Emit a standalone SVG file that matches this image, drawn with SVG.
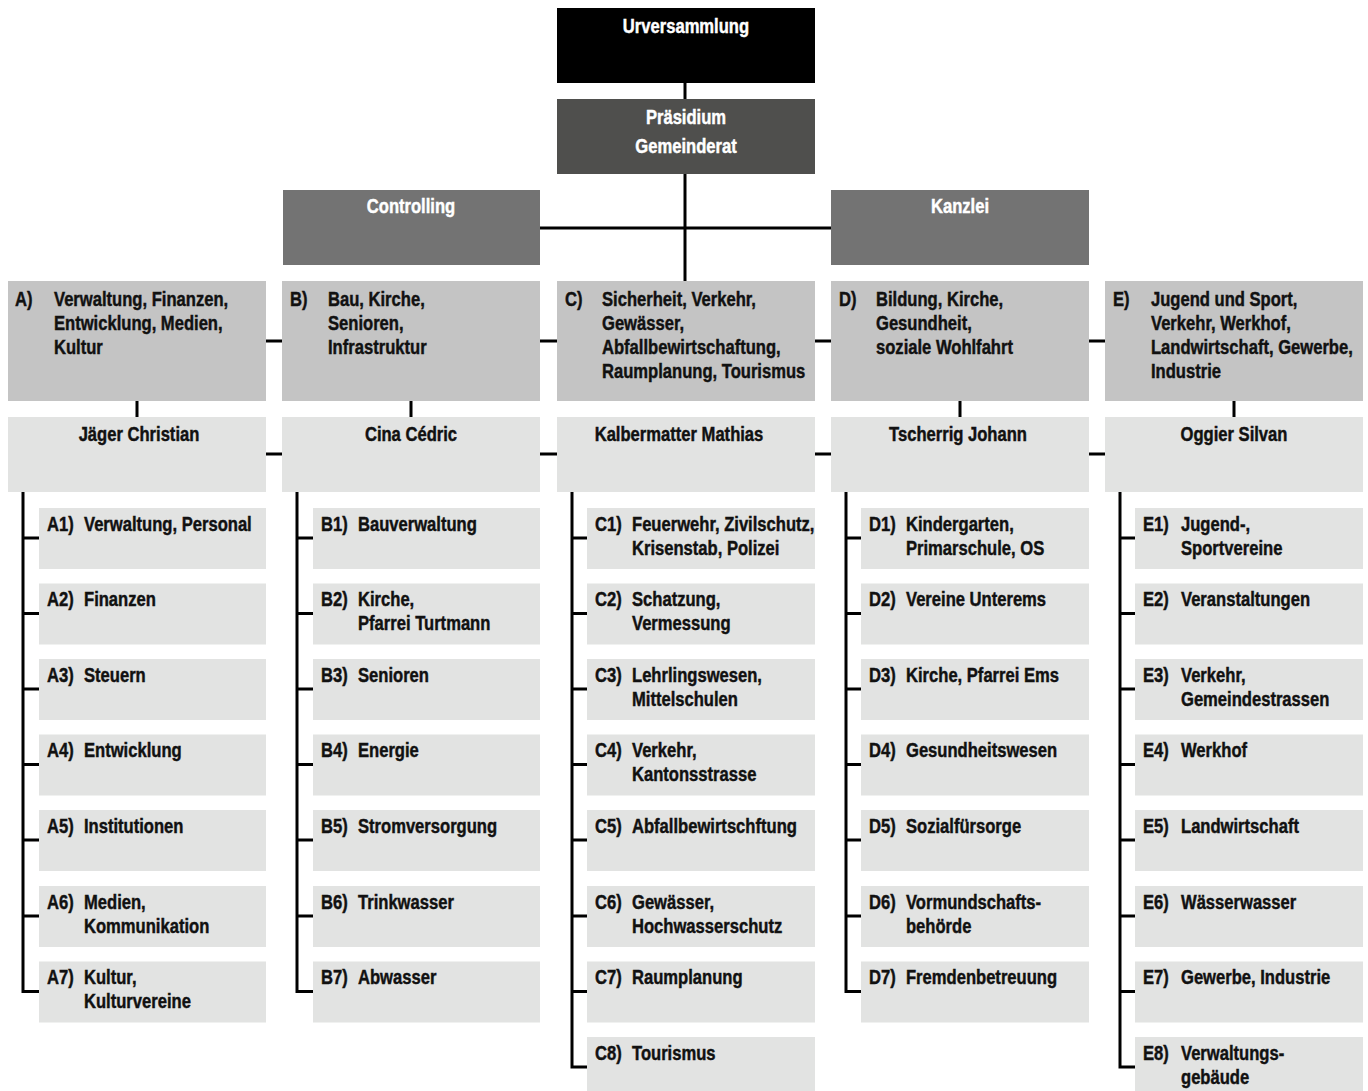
<svg xmlns="http://www.w3.org/2000/svg" width="1368" height="1091" viewBox="0 0 1368 1091">
<style>
text{font-family:"Liberation Sans",Arial,sans-serif;font-weight:bold;font-size:20px;fill:#111;stroke:#111;stroke-width:.45;transform-box:fill-box;transform-origin:0 0;transform:scaleX(.83)}
.w{fill:#fff;stroke:#fff}
.c{text-anchor:middle;transform-origin:50% 0}
.top{fill:#000}
.pres{fill:#4f4f4d}
.staff{fill:#737373}
.dept{fill:#c4c4c4}
.pers{fill:#e2e3e2}
.item{fill:#e2e3e2}
.ln{stroke:#000;stroke-width:3;fill:none}
</style>
<g id="connectors" class="ln">
<path d="M685 83V281"/>
<path d="M540 228H831"/>
<path d="M266 341H282M540 341H557M815 341H831M1089 341H1105"/>
<path d="M266 454H282M540 454H557M815 454H831M1089 454H1105"/>
<path d="M137 401V417M411 401V417M960 401V417M1234 401V417"/>
<path d="M23 492V991.5H39M23 538H39M23 613.5H39M23 689H39M23 764.5H39M23 840H39M23 916H39"/>
<path d="M297 492V991.5H313M297 538H313M297 613.5H313M297 689H313M297 764.5H313M297 840H313M297 916H313"/>
<path d="M572 492V1067H587M572 538H587M572 613.5H587M572 689H587M572 764.5H587M572 840H587M572 916H587M572 991.5H587"/>
<path d="M846 492V991.5H861M846 538H861M846 613.5H861M846 689H861M846 764.5H861M846 840H861M846 916H861"/>
<path d="M1120 492V1067H1135M1120 538H1135M1120 613.5H1135M1120 689H1135M1120 764.5H1135M1120 840H1135M1120 916H1135M1120 991.5H1135"/>
</g>
<g id="urversammlung"><rect class="top" x="557" y="8" width="258" height="75"/><text class="w c" x="686" y="33">Urversammlung</text></g>
<g id="praesidium"><rect class="pres" x="557" y="99" width="258" height="75"/><text class="w c" x="686" y="124">Präsidium</text><text class="w c" x="686" y="153">Gemeinderat</text></g>
<g id="controlling"><rect class="staff" x="283" y="190" width="257" height="75"/><text class="w c" x="411" y="213">Controlling</text></g>
<g id="kanzlei"><rect class="staff" x="831" y="190" width="258" height="75"/><text class="w c" x="960" y="213">Kanzlei</text></g>

<g id="dept-A"><rect class="dept" x="8" y="281" width="258" height="120"/><text x="15" y="306">A)</text><text x="54" y="306">Verwaltung, Finanzen,<tspan x="54" dy="24">Entwicklung, Medien,</tspan><tspan x="54" dy="24">Kultur</tspan></text></g>
<g id="dept-B"><rect class="dept" x="282" y="281" width="258" height="120"/><text x="290" y="306">B)</text><text x="328" y="306">Bau, Kirche,<tspan x="328" dy="24">Senioren,</tspan><tspan x="328" dy="24">Infrastruktur</tspan></text></g>
<g id="dept-C"><rect class="dept" x="557" y="281" width="258" height="120"/><text x="565" y="306">C)</text><text x="602" y="306">Sicherheit, Verkehr,<tspan x="602" dy="24">Gewässer,</tspan><tspan x="602" dy="24">Abfallbewirtschaftung,</tspan><tspan x="602" dy="24">Raumplanung, Tourismus</tspan></text></g>
<g id="dept-D"><rect class="dept" x="831" y="281" width="258" height="120"/><text x="839" y="306">D)</text><text x="876" y="306">Bildung, Kirche,<tspan x="876" dy="24">Gesundheit,</tspan><tspan x="876" dy="24">soziale Wohlfahrt</tspan></text></g>
<g id="dept-E"><rect class="dept" x="1105" y="281" width="258" height="120"/><text x="1113" y="306">E)</text><text x="1151" y="306">Jugend und Sport,<tspan x="1151" dy="24">Verkehr, Werkhof,</tspan><tspan x="1151" dy="24">Landwirtschaft, Gewerbe,</tspan><tspan x="1151" dy="24">Industrie</tspan></text></g>

<g id="person-A"><rect class="pers" x="8" y="417" width="258" height="75"/><text class="c" x="139" y="441">Jäger Christian</text></g>
<g id="person-B"><rect class="pers" x="282" y="417" width="258" height="75"/><text class="c" x="411" y="441">Cina Cédric</text></g>
<g id="person-C"><rect class="pers" x="557" y="417" width="258" height="75"/><text class="c" x="679" y="441">Kalbermatter Mathias</text></g>
<g id="person-D"><rect class="pers" x="831" y="417" width="258" height="75"/><text class="c" x="958" y="441">Tscherrig Johann</text></g>
<g id="person-E"><rect class="pers" x="1105" y="417" width="258" height="75"/><text class="c" x="1234" y="441">Oggier Silvan</text></g>

<g id="A1"><rect class="item" x="39" y="508" width="227" height="61"/><text x="47" y="531">A1)</text><text x="84" y="531">Verwaltung, Personal</text></g>
<g id="A2"><rect class="item" x="39" y="583.5" width="227" height="61"/><text x="47" y="606.5">A2)</text><text x="84" y="606.5">Finanzen</text></g>
<g id="A3"><rect class="item" x="39" y="659" width="227" height="61"/><text x="47" y="682">A3)</text><text x="84" y="682">Steuern</text></g>
<g id="A4"><rect class="item" x="39" y="734.5" width="227" height="61"/><text x="47" y="757.5">A4)</text><text x="84" y="757.5">Entwicklung</text></g>
<g id="A5"><rect class="item" x="39" y="810" width="227" height="61"/><text x="47" y="833">A5)</text><text x="84" y="833">Institutionen</text></g>
<g id="A6"><rect class="item" x="39" y="886" width="227" height="61"/><text x="47" y="909">A6)</text><text x="84" y="909">Medien,<tspan x="84" dy="24">Kommunikation</tspan></text></g>
<g id="A7"><rect class="item" x="39" y="961.5" width="227" height="61"/><text x="47" y="984.5">A7)</text><text x="84" y="984.5">Kultur,<tspan x="84" dy="24">Kulturvereine</tspan></text></g>

<g id="B1"><rect class="item" x="313" y="508" width="227" height="61"/><text x="321" y="531">B1)</text><text x="358" y="531">Bauverwaltung</text></g>
<g id="B2"><rect class="item" x="313" y="583.5" width="227" height="61"/><text x="321" y="606.5">B2)</text><text x="358" y="606.5">Kirche,<tspan x="358" dy="24">Pfarrei Turtmann</tspan></text></g>
<g id="B3"><rect class="item" x="313" y="659" width="227" height="61"/><text x="321" y="682">B3)</text><text x="358" y="682">Senioren</text></g>
<g id="B4"><rect class="item" x="313" y="734.5" width="227" height="61"/><text x="321" y="757.5">B4)</text><text x="358" y="757.5">Energie</text></g>
<g id="B5"><rect class="item" x="313" y="810" width="227" height="61"/><text x="321" y="833">B5)</text><text x="358" y="833">Stromversorgung</text></g>
<g id="B6"><rect class="item" x="313" y="886" width="227" height="61"/><text x="321" y="909">B6)</text><text x="358" y="909">Trinkwasser</text></g>
<g id="B7"><rect class="item" x="313" y="961.5" width="227" height="61"/><text x="321" y="984.5">B7)</text><text x="358" y="984.5">Abwasser</text></g>

<g id="C1"><rect class="item" x="587" y="508" width="228" height="61"/><text x="595" y="531">C1)</text><text x="632" y="531">Feuerwehr, Zivilschutz,<tspan x="632" dy="24">Krisenstab, Polizei</tspan></text></g>
<g id="C2"><rect class="item" x="587" y="583.5" width="228" height="61"/><text x="595" y="606.5">C2)</text><text x="632" y="606.5">Schatzung,<tspan x="632" dy="24">Vermessung</tspan></text></g>
<g id="C3"><rect class="item" x="587" y="659" width="228" height="61"/><text x="595" y="682">C3)</text><text x="632" y="682">Lehrlingswesen,<tspan x="632" dy="24">Mittelschulen</tspan></text></g>
<g id="C4"><rect class="item" x="587" y="734.5" width="228" height="61"/><text x="595" y="757.5">C4)</text><text x="632" y="757.5">Verkehr,<tspan x="632" dy="24">Kantonsstrasse</tspan></text></g>
<g id="C5"><rect class="item" x="587" y="810" width="228" height="61"/><text x="595" y="833">C5)</text><text x="632" y="833">Abfallbewirtschftung</text></g>
<g id="C6"><rect class="item" x="587" y="886" width="228" height="61"/><text x="595" y="909">C6)</text><text x="632" y="909">Gewässer,<tspan x="632" dy="24">Hochwasserschutz</tspan></text></g>
<g id="C7"><rect class="item" x="587" y="961.5" width="228" height="61"/><text x="595" y="984.5">C7)</text><text x="632" y="984.5">Raumplanung</text></g>
<g id="C8"><rect class="item" x="587" y="1037" width="228" height="61"/><text x="595" y="1060">C8)</text><text x="632" y="1060">Tourismus</text></g>

<g id="D1"><rect class="item" x="861" y="508" width="228" height="61"/><text x="869" y="531">D1)</text><text x="906" y="531">Kindergarten,<tspan x="906" dy="24">Primarschule, OS</tspan></text></g>
<g id="D2"><rect class="item" x="861" y="583.5" width="228" height="61"/><text x="869" y="606.5">D2)</text><text x="906" y="606.5">Vereine Unterems</text></g>
<g id="D3"><rect class="item" x="861" y="659" width="228" height="61"/><text x="869" y="682">D3)</text><text x="906" y="682">Kirche, Pfarrei Ems</text></g>
<g id="D4"><rect class="item" x="861" y="734.5" width="228" height="61"/><text x="869" y="757.5">D4)</text><text x="906" y="757.5">Gesundheitswesen</text></g>
<g id="D5"><rect class="item" x="861" y="810" width="228" height="61"/><text x="869" y="833">D5)</text><text x="906" y="833">Sozialfürsorge</text></g>
<g id="D6"><rect class="item" x="861" y="886" width="228" height="61"/><text x="869" y="909">D6)</text><text x="906" y="909">Vormundschafts-<tspan x="906" dy="24">behörde</tspan></text></g>
<g id="D7"><rect class="item" x="861" y="961.5" width="228" height="61"/><text x="869" y="984.5">D7)</text><text x="906" y="984.5">Fremdenbetreuung</text></g>

<g id="E1"><rect class="item" x="1135" y="508" width="228" height="61"/><text x="1143" y="531">E1)</text><text x="1181" y="531">Jugend-,<tspan x="1181" dy="24">Sportvereine</tspan></text></g>
<g id="E2"><rect class="item" x="1135" y="583.5" width="228" height="61"/><text x="1143" y="606.5">E2)</text><text x="1181" y="606.5">Veranstaltungen</text></g>
<g id="E3"><rect class="item" x="1135" y="659" width="228" height="61"/><text x="1143" y="682">E3)</text><text x="1181" y="682">Verkehr,<tspan x="1181" dy="24">Gemeindestrassen</tspan></text></g>
<g id="E4"><rect class="item" x="1135" y="734.5" width="228" height="61"/><text x="1143" y="757.5">E4)</text><text x="1181" y="757.5">Werkhof</text></g>
<g id="E5"><rect class="item" x="1135" y="810" width="228" height="61"/><text x="1143" y="833">E5)</text><text x="1181" y="833">Landwirtschaft</text></g>
<g id="E6"><rect class="item" x="1135" y="886" width="228" height="61"/><text x="1143" y="909">E6)</text><text x="1181" y="909">Wässerwasser</text></g>
<g id="E7"><rect class="item" x="1135" y="961.5" width="228" height="61"/><text x="1143" y="984.5">E7)</text><text x="1181" y="984.5">Gewerbe, Industrie</text></g>
<g id="E8"><rect class="item" x="1135" y="1037" width="228" height="61"/><text x="1143" y="1060">E8)</text><text x="1181" y="1060">Verwaltungs-<tspan x="1181" dy="24">gebäude</tspan></text></g>
</svg>
